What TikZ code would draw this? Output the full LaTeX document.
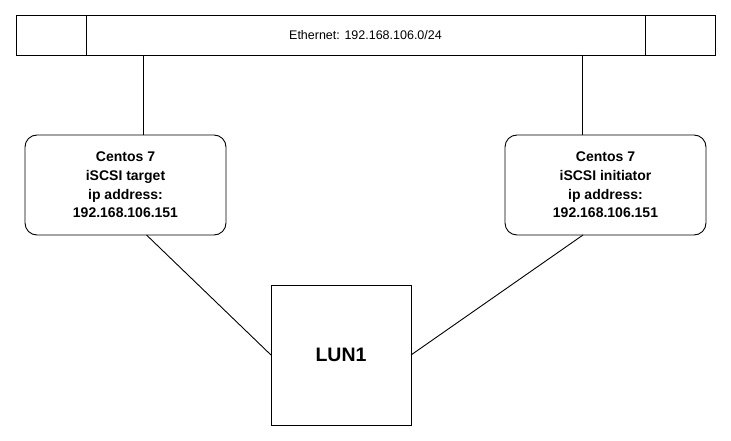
\documentclass[tikz,border=0pt]{standalone}
\usepackage{fontspec}
\setmainfont{Liberation Sans}
\usepackage{tikz}

\begin{document}
\begin{tikzpicture}[x=1pt,y=-1pt,line width=0.9pt,
  cell/.style={draw,inner sep=0pt,outer sep=0pt,minimum height=40pt},
  host/.style={draw,rounded corners=12pt,inner sep=0pt,outer sep=0pt,minimum width=201pt,minimum height=100pt,align=center,font=\bfseries\fontsize{14}{18.7}\selectfont},
  lunbox/.style={draw,inner sep=0pt,outer sep=0pt,minimum size=140pt,font=\bfseries\fontsize{19.5}{22}\selectfont}]
\useasboundingbox (0,0) rectangle (731,441);
%\draw[help lines] (0,0) grid (731,441);
\node (ethL) [cell,minimum width=70pt] at (51,35) {};
\node (eth) [cell,minimum width=559pt,font=\fontsize{12.5}{15}\selectfont] at (365.5,35) {Ethernet: 192.168.106.0/24};
\node (ethR) [cell,minimum width=70pt] at (680,35) {};
\node (target) [host] at (125.5,185) {Centos 7\\iSCSI target\\ip address:\\192.168.106.151};
\node (initiator) [host] at (605.5,185) {Centos 7\\iSCSI initiator\\ip address:\\192.168.106.151};
\node (lun) [lunbox] at (341,355) {LUN1};
\coordinate (tapA) at (143,55);
\coordinate (tapB) at (582,55);
\draw (tapA) -- (target.north -| tapA);
\draw (tapB) -- (initiator.north -| tapB);
\path
([xshift=21pt]target.south) edge (lun.west)
([xshift=-22.5pt]initiator.south) edge (lun.east);
\end{tikzpicture}
\end{document}
